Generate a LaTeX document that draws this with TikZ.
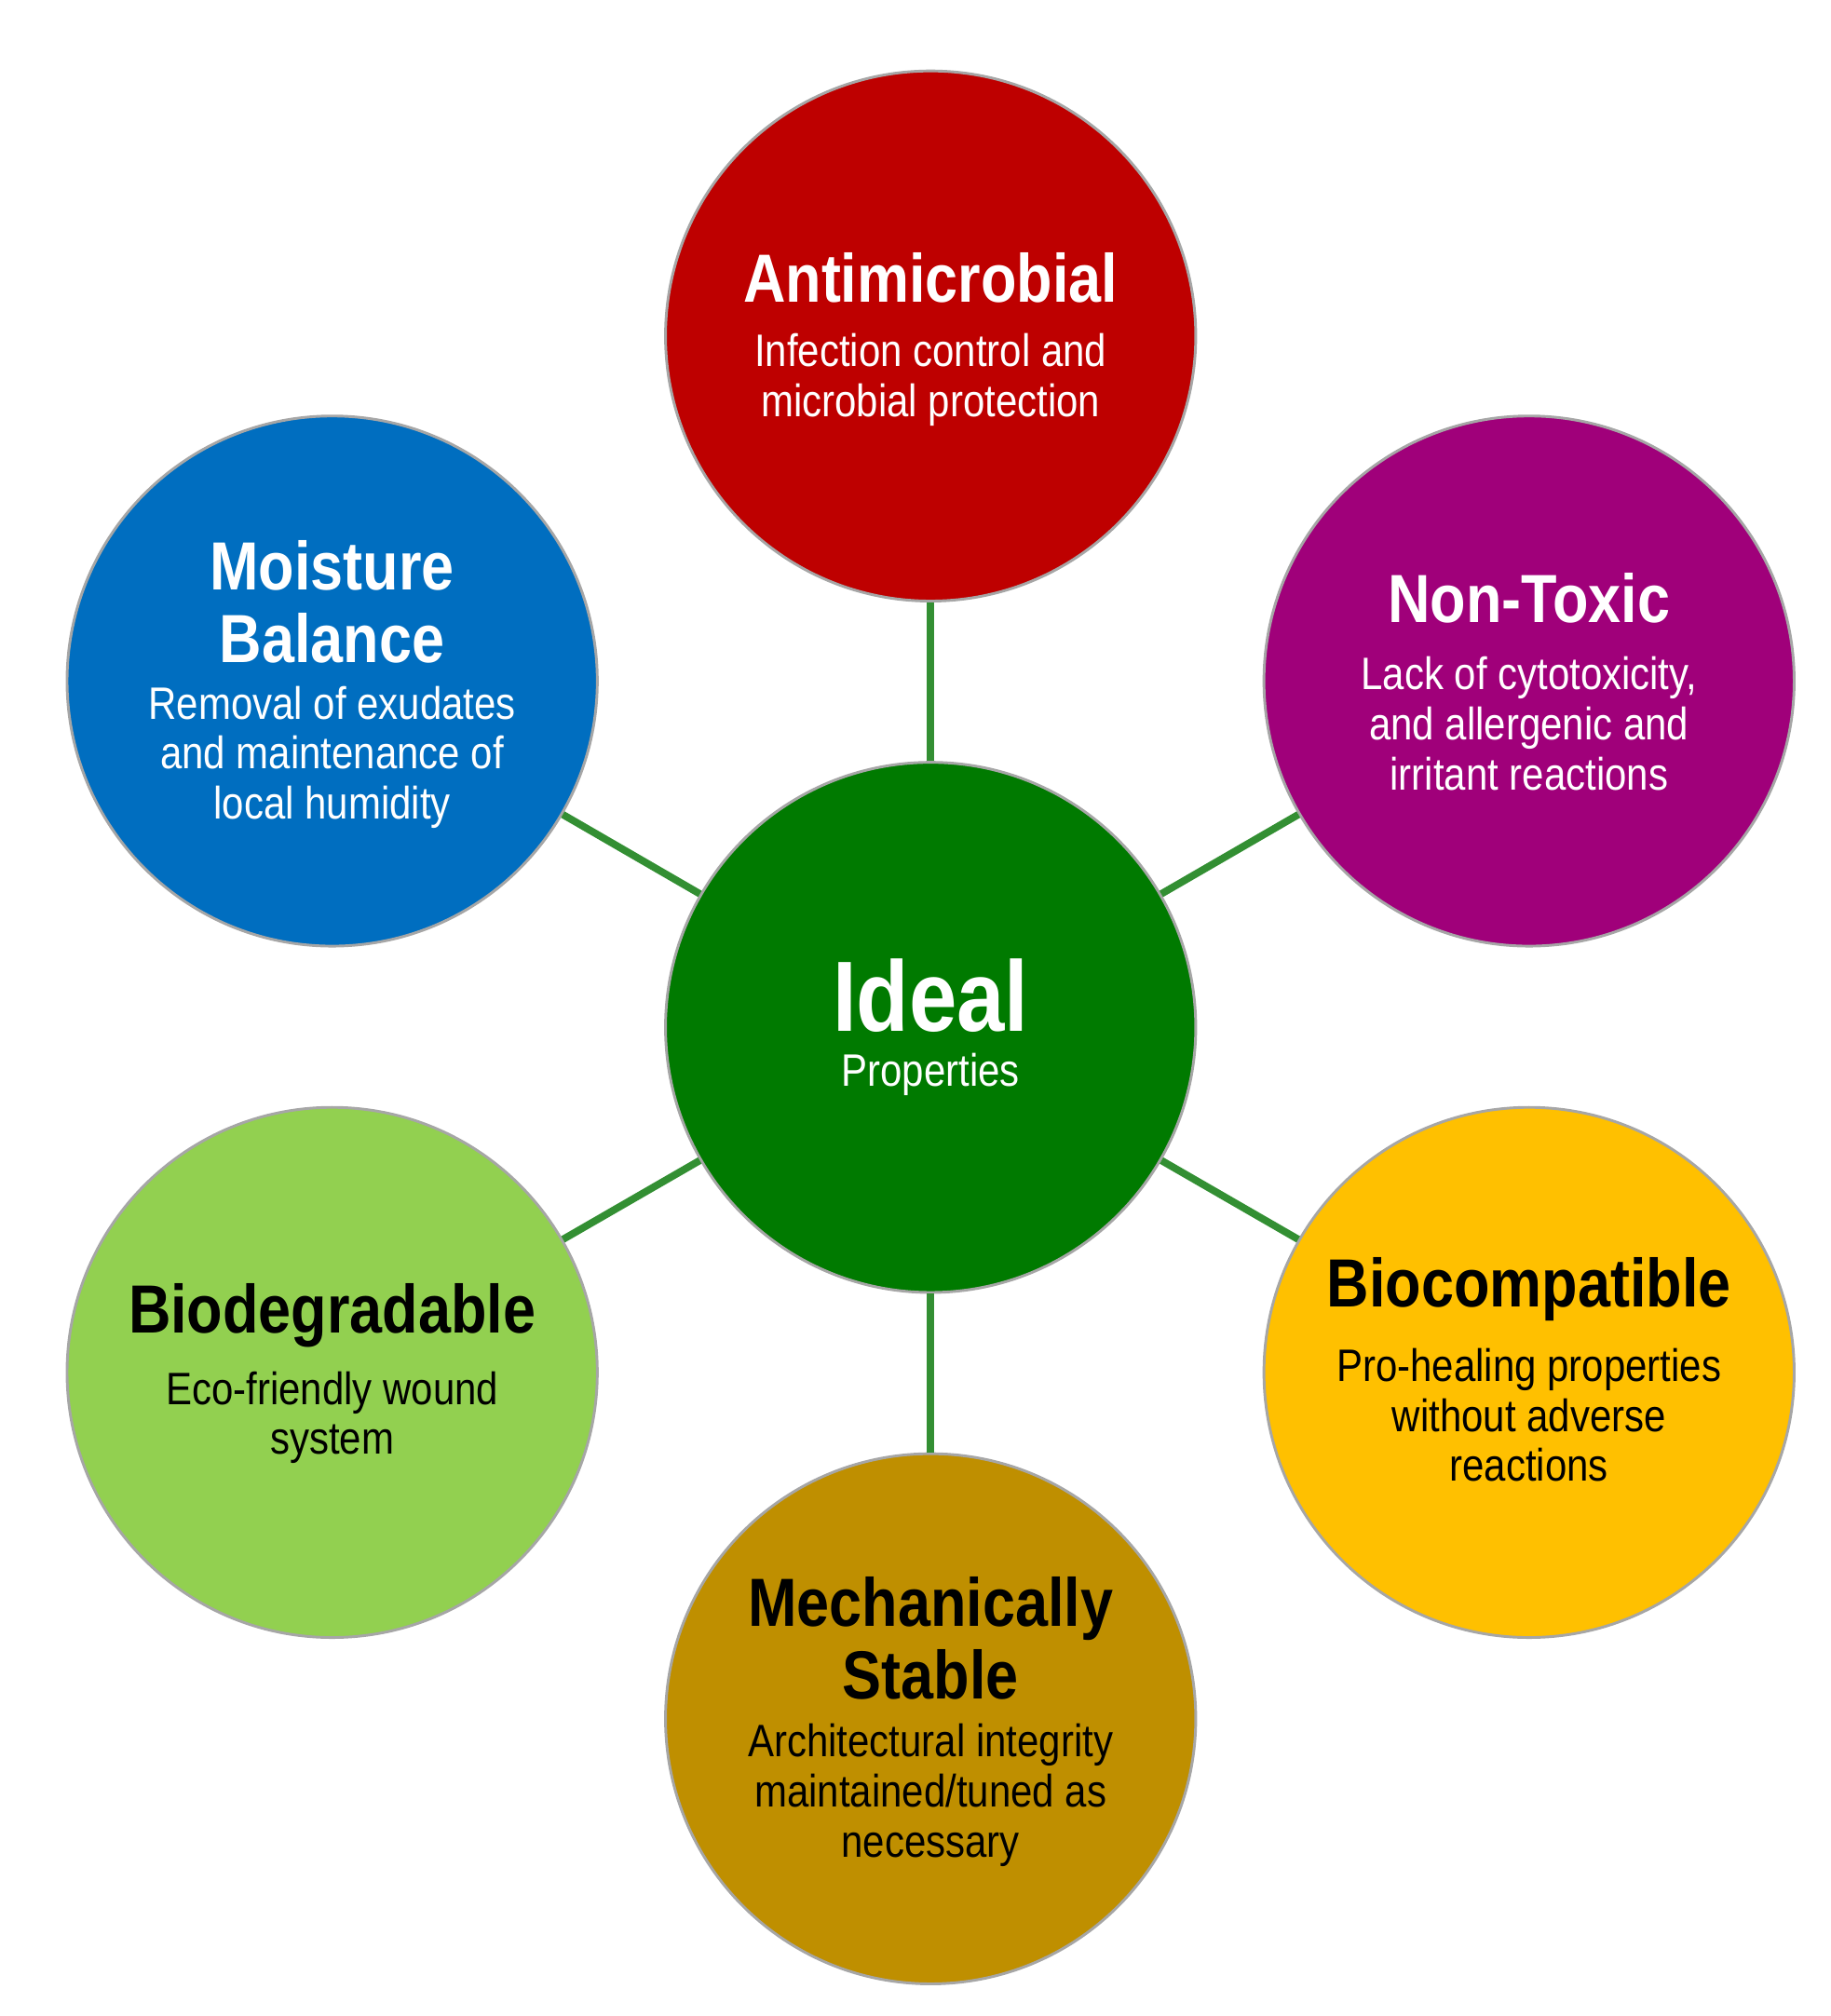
\documentclass[tikz,border=0pt]{standalone}
\usepackage{fontspec}
\setmainfont{Liberation Sans}[FakeStretch=0.86]
\begin{document}
\begin{tikzpicture}[x=0.01cm,y=-0.01cm,
 circ/.style={circle,minimum size=4.1cm,draw=black!35,line width=0.6pt,align=center,inner sep=0pt},
 conn/.style={draw=green!45!black!80,line width=1.6pt},
 ttl/.style={font=\fontsize{15}{16}\selectfont\bfseries},
 dsc/.style={font=\fontsize{10}{11}\selectfont}]
\useasboundingbox (0,0) rectangle (1416,1560);
\definecolor{cred}{HTML}{BE0000}
\definecolor{cpur}{HTML}{A0007A}
\definecolor{cblu}{HTML}{006EC0}
\definecolor{cgrn}{HTML}{007A00}
\definecolor{clgr}{HTML}{92D050}
\definecolor{cyel}{HTML}{FFC000}
\definecolor{cbrn}{HTML}{BF8F00}
\node[circ,fill=cgrn,text=white] (c) at (720,795) {\fontsize{22}{24}\selectfont\bfseries Ideal\\Properties};
\node[circ,fill=cred,text=white] (a) at (720,260) {};
\node[circ,fill=cpur,text=white] (n) at (1183,527) {};
\node[circ,fill=cblu,text=white] (m) at (257,527) {};
\node[circ,fill=clgr] (b) at (257,1062) {};
\node[circ,fill=cyel] (bc) at (1183,1062) {};
\node[circ,fill=cbrn] (ms) at (720,1330) {};
\foreach \n in {a,n,m,b,bc,ms} \draw[conn] (c) -- (\n);
\node[ttl,text=white] at (720,215) {Antimicrobial};
\node[dsc,text=white,align=center] at (720,294) {Infection control and\\microbial protection};
\node[ttl,text=white] at (1183,463) {Non-Toxic};
\node[dsc,text=white,align=center] at (1183,560) {Lack of cytotoxicity,\\and allergenic and\\irritant reactions};
\node[ttl,text=white,align=center] at (257,466) {Moisture\\Balance};
\node[dsc,text=white,align=center] at (257,586) {Removal of exudates\\and maintenance of\\local humidity};
\node[ttl] at (257,1018) {Biodegradable};
\node[dsc,align=center] at (257,1097) {Eco-friendly wound\\system};
\node[ttl] at (1183,998) {Biocompatible};
\node[dsc,align=center] at (1183,1095) {Pro-healing properties\\without adverse\\reactions};
\node[ttl,align=center] at (720,1268) {Mechanically\\Stable};
\node[dsc,align=center] at (720,1389) {Architectural integrity\\maintained/tuned as\\necessary};
\end{tikzpicture}
\end{document}
